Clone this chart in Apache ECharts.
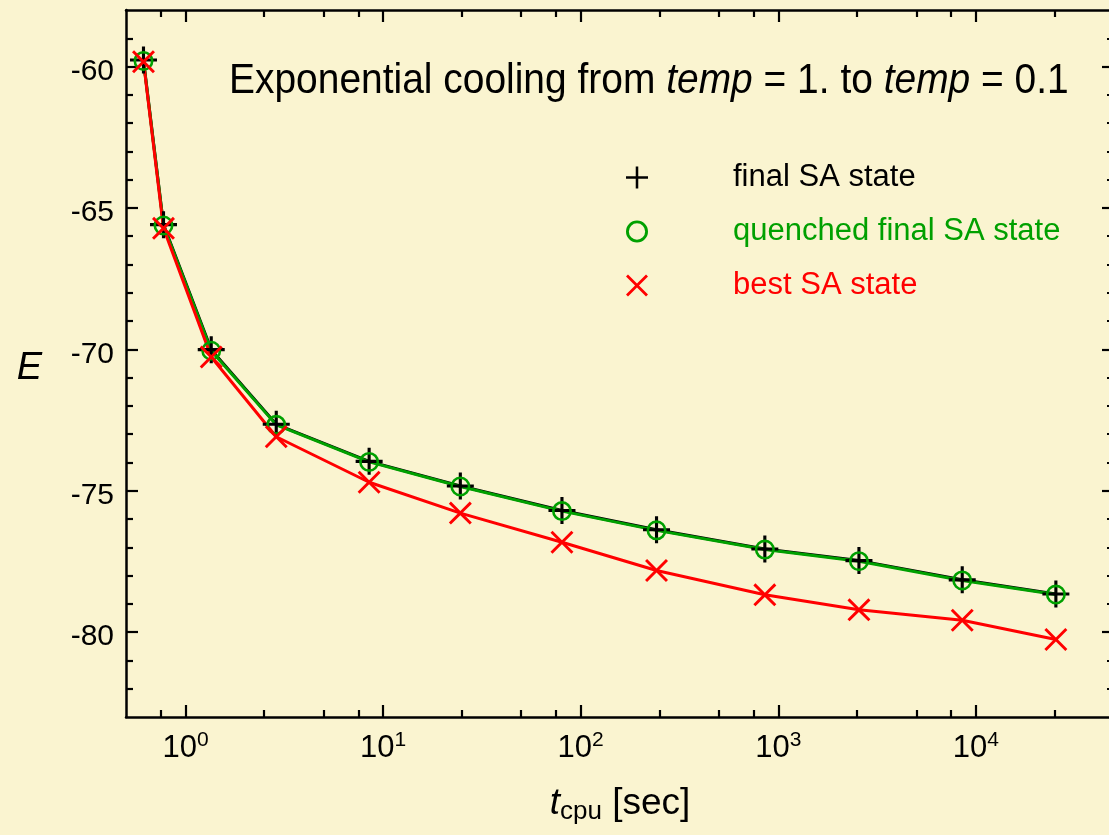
<!DOCTYPE html>
<html>
<head>
<meta charset="utf-8">
<script src="https://cdn.jsdelivr.net/npm/echarts@6/dist/echarts.min.js"></script>
<style>
html, body { margin: 0; padding: 0; background: #faf4d0; }
#main { width: 1109px; height: 835px; }
</style>
</head>
<body>
<div id="main"></div>
<script>
// cpu time of each SA run [sec]
var tCpu = [0.613, 0.774, 1.35, 2.88, 8.5, 24.6, 80.4, 242, 855, 2560, 8530, 25400];
// energies
var finalE = [-59.77, -65.59, -70.01, -72.65, -73.96, -74.83, -75.70, -76.38, -77.06, -77.47, -78.15, -78.65];
var quenchedE = [-59.80, -65.62, -70.05, -72.67, -73.98, -74.85, -75.72, -76.40, -77.08, -77.49, -78.17, -78.67];
var bestE = [-59.83, -65.72, -70.27, -73.09, -74.70, -75.79, -76.82, -77.82, -78.68, -79.21, -79.58, -80.26];

var seriesNames = ['final SA state', 'quenched final SA state', 'best SA state'];

// tick positions
var xTicks = [1, 10, 100, 1000, 10000];
var xTickExp = ['0', '1', '2', '3', '4'];
var xMinorTicks = [0.75, 2.5, 5, 7.5, 25, 50, 75, 250, 500, 750, 2500, 5000, 7500, 25000];
var yTicks = [-80, -75, -70, -65, -60];
var yMinorTicks = [-82, -81, -79, -78, -77, -76, -74, -73, -72, -71, -69, -68, -67, -66, -64, -63, -62, -61, -59];

var FONT = 'Liberation Sans';
var xMin = 0.5, xMax = 50000, yMin = -83, yMax = -58;

// symbols (filled outlines so they take the series colour)
var plusPath = 'path://M11.5,0h3v11.5h11.5v3h-11.5v11.5h-3v-11.5h-11.5v-3h11.5z';
var ringPath = 'path://M10,0A10,10 0 1,1 10,20A10,10 0 1,1 10,0Z M10,2.6A7.4,7.4 0 1,0 10,17.4A7.4,7.4 0 1,0 10,2.6Z';
var crossPath = 'path://M1.8,0L10,8.2L18.2,0L20,1.8L11.8,10L20,18.2L18.2,20L10,11.8L1.8,20L0,18.2L8.2,10L0,1.8Z';

function pairs(ys) {
    return tCpu.map(function (t, i) { return [t, ys[i]]; });
}

function xAxisDef(pos, ticks, len, withLine, withLabel) {
    var ax = {
        type: 'log',
        logBase: 10,
        position: pos,
        min: xMin,
        max: xMax,
        axisLine: { show: withLine, onZero: false, lineStyle: { color: '#000', width: 2.5 } },
        axisTick: { inside: true, length: len, customValues: ticks, lineStyle: { color: '#000', width: 2.2 } },
        axisLabel: { show: false },
        splitLine: { show: false },
        minorTick: { show: false }
    };
    if (withLabel) {
        ax.axisLabel = {
            show: true,
            customValues: xTicks,
            margin: 13,
            formatter: function (v) {
                var k = Math.round(Math.log(v) / Math.LN10);
                return '{b|10}{s|' + xTickExp[k] + '}';
            },
            rich: {
                b: { fontSize: 31, fontFamily: FONT, color: '#000', lineHeight: 36 },
                s: { fontSize: 21, fontFamily: FONT, color: '#000', verticalAlign: 'top', lineHeight: 20 }
            }
        };
        ax.name = '{t|t}{c|cpu}{u| [sec]}';
        ax.nameLocation = 'middle';
        ax.nameGap = 66;
        ax.nameTextStyle = {
            rich: {
                t: { fontSize: 37, fontFamily: FONT, fontStyle: 'italic', color: '#000', lineHeight: 42 },
                c: { fontSize: 26, fontFamily: FONT, color: '#000', verticalAlign: 'bottom', lineHeight: 28 },
                u: { fontSize: 37, fontFamily: FONT, color: '#000', lineHeight: 42 }
            }
        };
    }
    return ax;
}

function yAxisDef(pos, ticks, len, withLine, withLabel) {
    var ax = {
        type: 'value',
        position: pos,
        min: yMin,
        max: yMax,
        axisLine: { show: withLine, onZero: false, lineStyle: { color: '#000', width: 2.5 } },
        axisTick: { inside: true, length: len, customValues: ticks, lineStyle: { color: '#000', width: 2.2 } },
        axisLabel: { show: false },
        splitLine: { show: false }
    };
    if (withLabel) {
        ax.axisLabel = {
            show: true, customValues: yTicks, margin: 12,
            formatter: function (v) { return '{v|' + v + '}'; },
            rich: {
                v: { fontSize: 30, fontFamily: FONT, color: '#000', padding: [10, 0, 0, 0] }
            }
        };
        ax.name = '{e|E}';
        ax.nameLocation = 'middle';
        ax.nameRotate = 0;
        ax.nameGap = 84;
        ax.nameTextStyle = {
            rich: {
                e: { fontSize: 38, fontFamily: FONT, fontStyle: 'italic', color: '#000', padding: [10, 0, 0, 0] }
            }
        };
    }
    return ax;
}

function lineSeries(name, ys, color, symbol, size) {
    return {
        name: name,
        type: 'line',
        data: pairs(ys),
        symbol: symbol,
        symbolSize: size,
        showAllSymbol: true,
        lineStyle: { color: color, width: 3 },
        itemStyle: { color: color, borderWidth: 0 }
    };
}

var chart = echarts.init(document.getElementById('main'));
chart.setOption({
    backgroundColor: '#faf4d0',
    animation: false,
    grid: { left: 126, top: 10, right: -5, bottom: 118, outerBoundsMode: 'none' },
    xAxis: [
        xAxisDef('bottom', xTicks, 12, true, true),
        xAxisDef('top', xTicks, 12, true, false),
        xAxisDef('bottom', xMinorTicks, 7, false, false),
        xAxisDef('top', xMinorTicks, 7, false, false)
    ],
    yAxis: [
        yAxisDef('left', yTicks, 12, true, true),
        yAxisDef('right', yTicks, 12, true, false),
        yAxisDef('left', yMinorTicks, 7, false, false),
        yAxisDef('right', yMinorTicks, 7, false, false)
    ],
    legend: {
        orient: 'vertical',
        left: 621,
        top: 157,
        itemWidth: 182,
        itemHeight: 22,
        itemGap: 23,
        selectedMode: false,
        itemStyle: { borderWidth: 0 },
        textStyle: { fontSize: 31, fontFamily: FONT, lineHeight: 30 },
        data: [
            { name: seriesNames[0], icon: plusPath, textStyle: { color: '#000000' } },
            { name: seriesNames[1], icon: ringPath, textStyle: { color: '#00a000' } },
            { name: seriesNames[2], icon: crossPath, textStyle: { color: '#ff0000' } }
        ]
    },
    graphic: [{
        type: 'text',
        x: 229,
        y: 81,
        scaleX: 0.927,
        style: {
            text: 'Exponential cooling from {i|temp} = 1. to {i|temp} = 0.1',
            fontSize: 42,
            fontFamily: FONT,
            fill: '#000',
            verticalAlign: 'middle',
            rich: {
                i: { fontSize: 42, fontFamily: FONT, fontStyle: 'italic', fill: '#000' }
            }
        }
    }],
    series: [
        lineSeries(seriesNames[0], finalE, '#000000', plusPath, 27),
        lineSeries(seriesNames[1], quenchedE, '#00a000', ringPath, 20),
        lineSeries(seriesNames[2], bestE, '#ff0000', crossPath, 23)
    ]
});
</script>
</body>
</html>
